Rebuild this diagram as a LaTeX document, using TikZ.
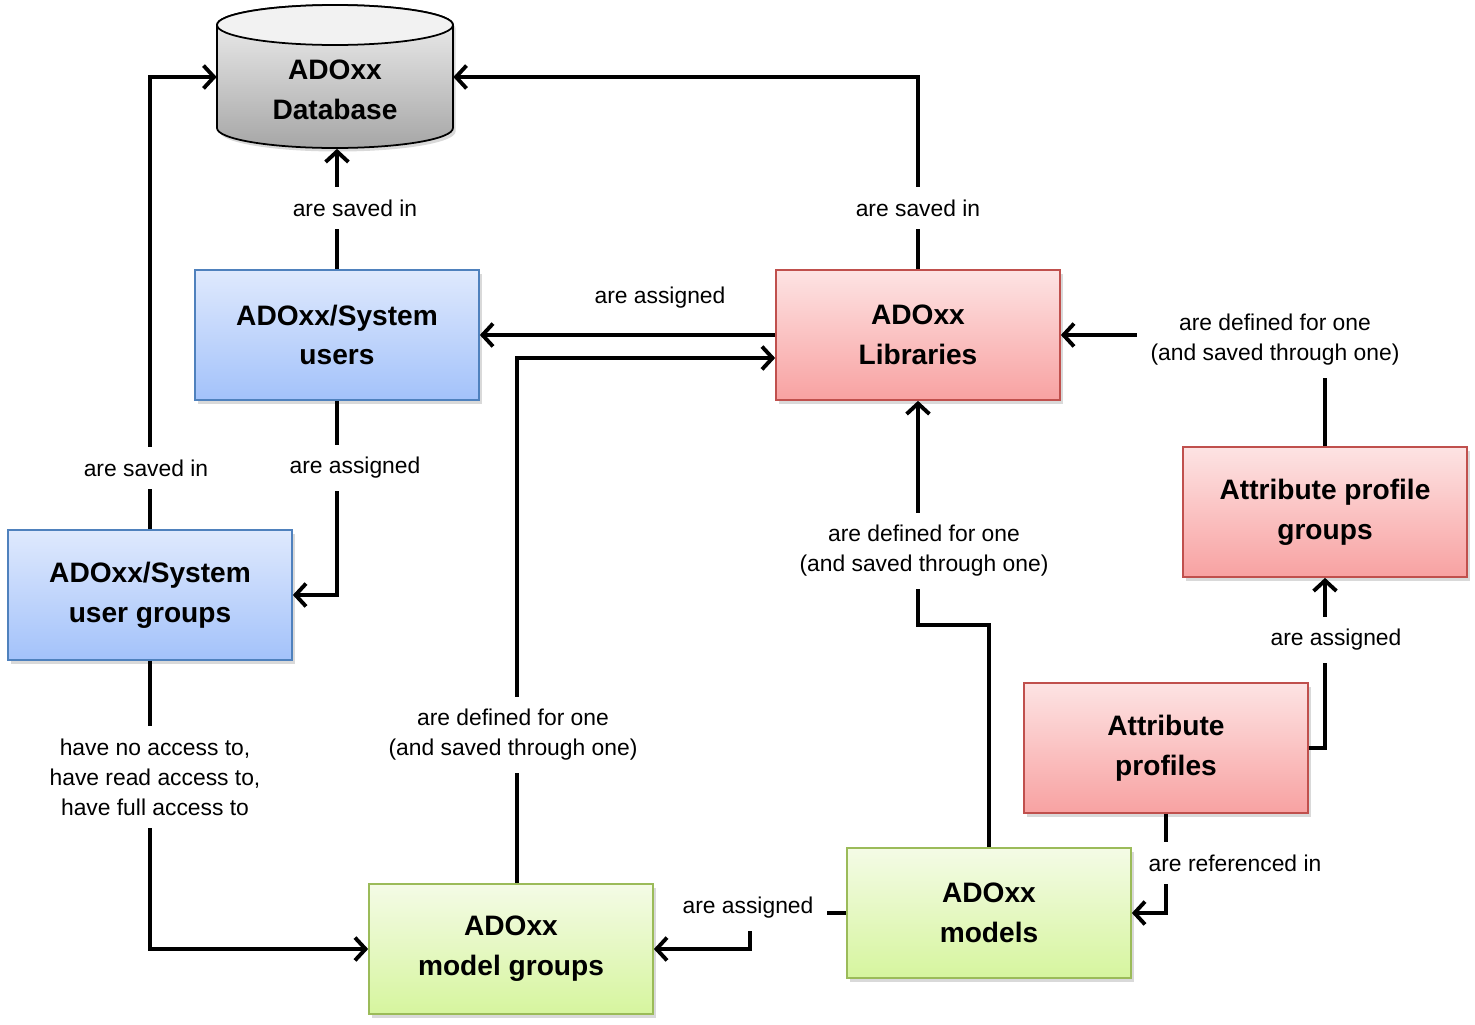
\documentclass[tikz,border=0pt]{standalone}
\usepackage{fontspec}
\setmainfont{Liberation Sans}
\usetikzlibrary{arrows.meta, shadows}

\definecolor{bluetop}{HTML}{DFE9FD}
\definecolor{bluebot}{HTML}{A3C2FA}
\definecolor{blueline}{HTML}{4F81BD}
\definecolor{redtop}{HTML}{FDE3E3}
\definecolor{redbot}{HTML}{F8A2A2}
\definecolor{redline}{HTML}{C0504D}
\definecolor{greentop}{HTML}{F4FBE6}
\definecolor{greenbot}{HTML}{D6F59E}
\definecolor{greenline}{HTML}{9BBB59}
\definecolor{graytop}{HTML}{F2F2F2}
\definecolor{graybot}{HTML}{A6A6A6}

\begin{document}
\begin{tikzpicture}[x=0.02cm, y=-0.02cm, >={Straight Barb[length=6pt, width=13pt]}]
    \tikzstyle{box} = [rectangle, line width=1pt, minimum width=5.68cm, minimum height=2.6cm, align=center, font=\fontsize{16}{22.7}\selectfont\bfseries, drop shadow={shadow xshift=1.5pt, shadow yshift=-2pt, opacity=0.3}]
    \tikzstyle{userbox} = [box, draw=blueline, top color=bluetop, bottom color=bluebot]
    \tikzstyle{libbox} = [box, draw=redline, top color=redtop, bottom color=redbot]
    \tikzstyle{modelbox} = [box, draw=greenline, top color=greentop, bottom color=greenbot]
    \tikzstyle{conn} = [->, line width=2.2pt]
    \tikzstyle{lbl} = [fill=white, align=center, font=\fontsize{13}{17}\selectfont, inner xsep=8pt, inner ysep=7pt]

    \useasboundingbox (0,0) rectangle (1475,1025);

    % database cylinder
    \draw [line width=1pt, top color=graytop, bottom color=graybot, drop shadow={shadow xshift=1.5pt, shadow yshift=-2pt, opacity=0.3}] (217,25) -- (217,128) arc[start angle=180, end angle=360, x radius=2.36cm, y radius=0.4cm] -- (453,25) arc[start angle=0, end angle=180, x radius=2.36cm, y radius=0.4cm] -- cycle;
    \draw [line width=1pt, fill=graytop] (335,25) ellipse [x radius=2.36cm, y radius=0.4cm];
    \node [minimum width=4.72cm, minimum height=2.86cm] (db) at (335,77) {};
    \node [align=center, font=\fontsize{16}{22.7}\selectfont\bfseries] (dbtext) at (335,90) {ADOxx\\Database};

    \node [userbox] (users) at (337,335) {ADOxx/System\\users};
    \node [libbox] (libs) at (918,335) {ADOxx\\Libraries};
    \node [userbox] (ugroups) at (150,595) {ADOxx/System\\user groups};
    \node [libbox] (apgroups) at (1325,512) {Attribute profile\\groups};
    \node [libbox] (aprofiles) at (1166,748) {Attribute\\profiles};
    \node [modelbox] (mgroups) at (511,949) {ADOxx\\model groups};
    \node [modelbox] (models) at (989,913) {ADOxx\\models};

    \coordinate (bendm) at (918,625);
    \coordinate (bendg) at (750,913);

    % saved in the database
    \draw [conn] (users.north) -- (users.north |- db.south);
    \draw [conn] (libs.north) |- (db.east);
    \draw [conn] (ugroups.north) |- (db.west);

    % users and groups
    \draw [conn] (libs.west) -- (users.east);
    \draw [conn] (users.south) |- (ugroups.east);
    \draw [conn] (ugroups.south) |- (mgroups.west);

    % libraries
    \draw [conn] ([xshift=0.12cm]mgroups.north) |- ([yshift=-0.46cm]libs.west);
    \draw [conn] (models.north) |- (bendm) -- (libs.south);
    \draw [conn] (apgroups.north) |- (libs.east);

    % attribute profiles and models
    \draw [conn] (aprofiles.east) -| (apgroups.south);
    \draw [conn] (aprofiles.south) |- (models.east);
    \draw [conn] (models.west) -- (bendg) |- (mgroups.east);

    % labels
    \node [lbl] (l1) at (355,208) {are saved in};
    \node [lbl] (l2) at (918,208) {are saved in};
    \node [lbl] (l3) at (146,468) {are saved in};
    \node [lbl] (l4) at (660,298) {are assigned};
    \node [lbl] (l5) at (355,468) {are assigned};
    \node [lbl] (l6) at (155,777) {have no access to,\\have read access to,\\have full access to};
    \node [lbl] (l7) at (513,735) {are defined for one\\(and saved through one)};
    \node [lbl] (l8) at (924,551) {are defined for one\\(and saved through one)};
    \node [lbl] (l9) at (1275,340) {are defined for one\\(and saved through one)};
    \node [lbl] (l10) at (1336,640) {are assigned};
    \node [lbl] (l11) at (1235,863) {are referenced in};
    \node [lbl] (l12) at (748,908) {are assigned};
\end{tikzpicture}
\end{document}
